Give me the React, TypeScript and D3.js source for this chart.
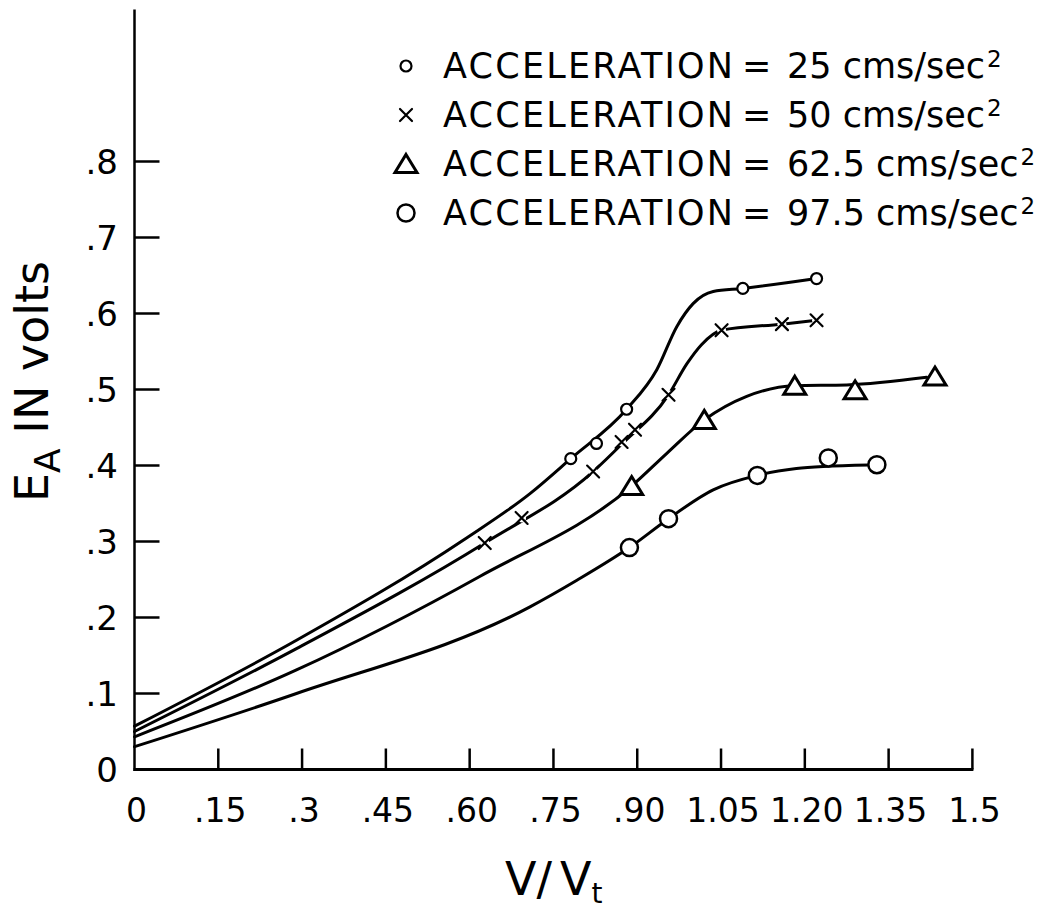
import React from "react";
import * as d3 from "d3";

// ---- axis ticks ----
const xTicks = [0, 0.15, 0.3, 0.45, 0.6, 0.75, 0.9, 1.05, 1.2, 1.35, 1.5];
const xTickLabels = ["0", ".15", ".3", ".45", ".60", ".75", ".90", "1.05", "1.20", "1.35", "1.5"];
const yTicks = [0, 0.1, 0.2, 0.3, 0.4, 0.5, 0.6, 0.7, 0.8];
const yTickLabels = ["0", ".1", ".2", ".3", ".4", ".5", ".6", ".7", ".8"];

// ---- measured points (V/Vt, E_A volts) ----
const acc25X = [0.781, 0.827, 0.881, 1.089, 1.221];
const acc25Y = [0.409, 0.429, 0.474, 0.633, 0.646];
const acc50X = [0.627, 0.693, 0.821, 0.872, 0.896, 0.956, 1.051, 1.159, 1.221];
const acc50Y = [0.298, 0.331, 0.392, 0.431, 0.447, 0.493, 0.578, 0.586, 0.591];
const acc625X = [0.89, 1.02, 1.182, 1.29, 1.433];
const acc625Y = [0.373, 0.46, 0.505, 0.499, 0.517];
const acc975X = [0.886, 0.956, 1.115, 1.242, 1.329];
const acc975Y = [0.292, 0.33, 0.387, 0.41, 0.401];

// ---- hand-drawn fitted curves ----
const curve25X = [0, 0.29, 0.589, 0.708, 0.781, 0.881, 0.935, 0.971, 1.0, 1.036, 1.089, 1.221];
const curve25Y = [0.057, 0.17, 0.302, 0.363, 0.409, 0.474, 0.526, 0.583, 0.613, 0.629, 0.633, 0.646];
const curve50X = [0, 0.29, 0.627, 0.821, 0.872, 0.956, 0.989, 1.015, 1.051, 1.159, 1.221];
const curve50Y = [0.05, 0.159, 0.298, 0.392, 0.428, 0.493, 0.534, 0.559, 0.578, 0.586, 0.591];
const curve625X = [0, 0.29, 0.618, 0.89, 0.953, 1.02, 1.096, 1.182, 1.275, 1.418];
const curve625Y = [0.043, 0.131, 0.254, 0.373, 0.416, 0.46, 0.491, 0.505, 0.506, 0.516];
const curve975X = [0, 0.29, 0.708, 0.792, 0.886, 0.956, 1.036, 1.115, 1.185, 1.242, 1.329];
const curve975Y = [0.03, 0.1, 0.214, 0.249, 0.292, 0.33, 0.368, 0.387, 0.396, 0.399, 0.401];

// ---- legend ----
const legendValues = ["25", "50", "62.5", "97.5"];
const legendMarkers = ["smallCircle", "cross", "triangle", "bigCircle"];

const W = 1061;
const H = 911;
const FONT = "'DejaVu Sans', sans-serif";

const zip = (xs: number[], ys: number[]) => xs.map((v, i) => [v, ys[i]] as [number, number]);

function Marker({ kind, cx, cy }: { kind: string; cx: number; cy: number }) {
  if (kind === "smallCircle")
    return <circle cx={cx} cy={cy} r={5.5} fill="#fff" stroke="#000" strokeWidth={2.2} />;
  if (kind === "bigCircle")
    return <circle cx={cx} cy={cy} r={8.5} fill="#fff" stroke="#000" strokeWidth={2.5} />;
  if (kind === "triangle")
    return (
      <path
        d={`M${cx},${cy - 9.5} L${cx + 11},${cy + 8.5} L${cx - 11},${cy + 8.5} Z`}
        fill="#fff"
        stroke="#000"
        strokeWidth={3}
        strokeLinejoin="miter"
      />
    );
  return (
    <g>
      <circle cx={cx} cy={cy} r={4.5} fill="#fff" />
      <path
        d={`M${cx - 6},${cy - 6} L${cx + 6},${cy + 6} M${cx - 6},${cy + 6} L${cx + 6},${cy - 6}`}
        stroke="#000"
        strokeWidth={2.2}
        strokeLinecap="round"
      />
    </g>
  );
}

export default function App() {
  const x = d3.scaleLinear().domain([0, 1.5]).range([134.5, 972.4]);
  const y = d3.scaleLinear().domain([0, 1.0]).range([769.5, 9.5]);
  const line = d3
    .line<[number, number]>()
    .x((d) => x(d[0]))
    .y((d) => y(d[1]))
    .curve(d3.curveMonotoneX);

  const curves = [
    zip(curve25X, curve25Y),
    zip(curve50X, curve50Y),
    zip(curve625X, curve625Y),
    zip(curve975X, curve975Y),
  ];
  const series = [
    { kind: "smallCircle", pts: zip(acc25X, acc25Y) },
    { kind: "cross", pts: zip(acc50X, acc50Y) },
    { kind: "triangle", pts: zip(acc625X, acc625Y) },
    { kind: "bigCircle", pts: zip(acc975X, acc975Y) },
  ];

  const x0 = x(0);
  const y0 = y(0);

  return (
    <div style={{ position: "absolute", left: 0, top: 0 }}>
      <svg width={W} height={H} style={{ display: "block", background: "#fff" }} fontFamily={FONT}>
        {/* axes */}
        <line x1={x0} y1={y(1)} x2={x0} y2={y0 + 1.5} stroke="#000" strokeWidth={2.5} />
        <line x1={x0 - 1} y1={y0} x2={x(1.5) + 1} y2={y0} stroke="#000" strokeWidth={3} />
        {yTicks.slice(1).map((t) => (
          <line key={"yt" + t} x1={x0} x2={x0 + 25} y1={y(t)} y2={y(t)} stroke="#000" strokeWidth={2.5} />
        ))}
        {xTicks.slice(1).map((t) => (
          <line key={"xt" + t} x1={x(t)} x2={x(t)} y1={y0} y2={y0 - 21} stroke="#000" strokeWidth={2.5} />
        ))}
        {yTicks.map((t, i) => (
          <text key={"yl" + t} x={118} y={y(t) + 12.5} fontSize={34} textAnchor="end">
            {yTickLabels[i]}
          </text>
        ))}
        {xTicks.map((t, i) => (
          <text key={"xl" + t} x={x(t) + 2} y={822} fontSize={33} textAnchor="middle">
            {xTickLabels[i]}
          </text>
        ))}

        {/* axis titles */}
        <text x={505} y={895} fontSize={46}>
          V/
          <tspan dx={8}>V</tspan>
          <tspan dy={8} fontSize={28}>
            t
          </tspan>
        </text>
        <text transform="translate(48,502) rotate(-90)" fontSize={46}>
          E
          <tspan dy={12} fontSize={36}>
            A
          </tspan>
          <tspan dy={-12} fontSize={46}>
            {" IN volts"}
          </tspan>
        </text>

        {/* curves */}
        {curves.map((c, i) => (
          <path key={"c" + i} d={line(c) || ""} fill="none" stroke="#000" strokeWidth={3} strokeLinecap="round" />
        ))}

        {/* markers */}
        {series.map((s, i) =>
          s.pts.map((p, j) => <Marker key={`m${i}-${j}`} kind={s.kind} cx={x(p[0])} cy={y(p[1])} />)
        )}

        {/* legend */}
        {legendValues.map((v, i) => {
          const base = 78 + i * 49;
          return (
            <g key={"lg" + i}>
              <Marker kind={legendMarkers[i]} cx={406} cy={base - 12} />
              <text x={443} y={base} fontSize={35} textLength={290} lengthAdjust="spacing">
                ACCELERATION
              </text>
              <text x={742} y={base} fontSize={35}>
                =
              </text>
              <text x={787} y={base} fontSize={35}>
                {v + " cms/sec"}
                <tspan dx={2} dy={-11} fontSize={23}>
                  2
                </tspan>
              </text>
            </g>
          );
        })}
      </svg>
    </div>
  );
}
